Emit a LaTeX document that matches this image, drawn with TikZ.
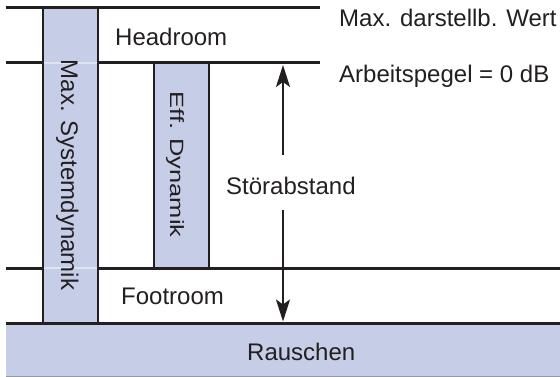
\documentclass[tikz,border=0pt]{standalone}
\usepackage{fontspec}
\setmainfont{Liberation Sans}
\usetikzlibrary{arrows.meta}
\definecolor{lav}{RGB}{198,205,230}
\definecolor{lavlight}{RGB}{224,228,241}
\definecolor{ink}{RGB}{35,31,32}
\begin{document}
\begin{tikzpicture}[x=1pt,y=-1pt,
  txt/.style={font=\fontsize{24}{28}\selectfont, text=ink, inner sep=0pt},
  hline/.style={draw=ink, line width=3pt},
  vline/.style={draw=ink, line width=2pt},
  arr/.style={draw=ink, line width=2pt, -{Stealth[length=22pt,width=14pt,inset=5pt]}}]
\useasboundingbox (0,0) rectangle (560,377);
% fills
\fill[lav] (6,323) rectangle (560,376);
\draw[gray!80, line width=0.8pt] (6,376) -- (560,376);
\fill[lav] (43,8) rectangle (98,323);
\fill[lav] (154,63) rectangle (209,268);
\draw[lavlight, line width=2.5pt] (44,63) -- (97,63) (44,268) -- (97,268);
% horizontal lines
\draw[hline] (6,8) -- (320,8);
\draw[hline] (6,63) -- (43,63) (98,63) -- (320,63);
\draw[hline] (6,268) -- (43,268) (98,268) -- (560,268);
\draw[hline] (6,323) -- (560,323);
% bar borders
\draw[vline] (43,8) -- (43,323) (98,8) -- (98,323);
\draw[vline] (154,63) -- (154,268) (209,63) -- (209,268);
% texts
\node[txt, anchor=base west] (maxw) at (339,27) {Max. darstellb. Wert};
\node[txt, anchor=base west] (ap) at (339,83) {Arbeitspegel = 0 dB};
\node[txt, anchor=base west] (head) at (115,46) {Headroom};
\node[txt, anchor=base west] (foot) at (121,304) {Footroom};
\node[txt, anchor=base west] (sa) at (226,195) {Störabstand};
\node[txt, anchor=base west] (rau) at (247,360) {Rauschen};
\node[txt, rotate=-90, anchor=base] (msd) at (61,175) {Max. Systemdynamik};
\node[txt, rotate=-90, anchor=base] (eff) at (170,164.5) {\scalebox{1.06}[0.8]{Eff. Dynamik}};
% arrows
\coordinate (a1) at (283,155);
\coordinate (t1) at (283,65);
\coordinate (a2) at (283,210);
\coordinate (t2) at (283,321.5);
\draw[arr] (a1) -- (t1);
\draw[arr] (a2) -- (t2);
\end{tikzpicture}
\end{document}
